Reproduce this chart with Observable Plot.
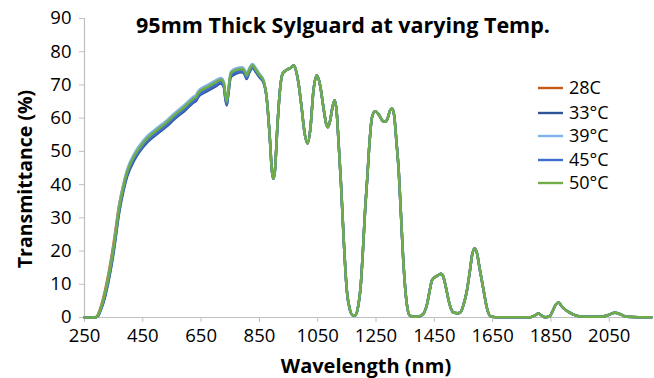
<!DOCTYPE html>
<html><head><meta charset="utf-8">
<script src="https://cdn.jsdelivr.net/npm/d3@7"></script>
<script src="https://cdn.jsdelivr.net/npm/@observablehq/plot@0.6"></script>
<style>body{margin:0;background:#fff}</style>
</head><body><div id="chart"></div>
<script>
const seriesNames = ["28C", "33°C", "39°C", "45°C", "50°C"];
const seriesColors = ["#C55A11", "#2F5597", "#7DB3E6", "#3D6FD1", "#70AD47"];
const xTicks = [250, 450, 650, 850, 1050, 1250, 1450, 1650, 1850, 2050];
const yTicks = [0, 10, 20, 30, 40, 50, 60, 70, 80, 90];

// 250–864 nm: the five curves separate slightly here
const headWavelengths = [250,270,285,295,305,320,335,350,369,385,397,420,438,466,500,529,560,592,626,632,640,672,700,718,728,733,738,743,752,770,790,800,806,815,826,838,850,864];
const head28 = [0,0,0,0.7,3,8,14.5,22.5,34,40.5,44,48.3,50.7,53.7,56.2,58.2,60.7,63,65.7,66,67.2,69.1,70.5,71.3,70.2,66.8,64.8,67.8,73.3,74.3,74.6,73.8,72.6,74.3,75.8,74.4,72.9,71.1];
const head33 = [0,0,0,0.3,2,6,12,19.5,31.5,38.6,42.6,47.2,49.8,52.8,55.3,57.3,59.8,62.1,64.8,65.1,66.3,68.2,69.6,70.4,69.3,65.8,63.8,66.8,72.4,73.4,73.8,73,71.8,73.6,75.1,73.8,72.3,70.7];
const head39 = [0,0,0,0.5,2.6,7.2,13.8,21.6,33.8,40.8,44.7,49.2,51.7,54.7,57.1,59.1,61.6,63.9,66.6,66.9,68.1,70,71.4,72.1,71,67.5,65.5,68.5,74,75,75.3,74.5,73.3,75,76.3,75,73.4,71.5];
const head45 = [0,0,0,0.4,2.2,6.4,12.5,20.2,32.2,39.2,43.2,47.7,50.2,53.2,55.7,57.7,60.2,62.5,65.2,65.5,66.7,68.6,70,70.8,69.7,66.2,64.2,67.2,72.8,73.8,74.1,73.3,72.1,73.9,75.4,74,72.6,70.9];
const head50 = [0,0,0,0.5,2.5,7,13.3,21,33,40,44,48.5,51,54,56.5,58.5,61,63.3,66,66.3,67.5,69.4,70.8,71.6,70.5,67,65,68,73.5,74.5,74.8,74,72.8,74.5,75.9,74.5,73,71.2];

// 875–2195 nm: the curves coincide here
const tailWavelengths = [875,885,893,898,903,912,920,930,945,958,967,975,985,995,1005,1015,1025,1035,1047,1058,1070,1080,1085,1092,1100,1108,1115,1122,1130,1140,1150,1160,1170,1178,1188,1197,1205,1213,1220,1228,1236,1247,1260,1275,1282,1290,1298,1305,1312,1320,1328,1335,1345,1355,1365,1380,1400,1413,1425,1435,1442,1453,1465,1473,1480,1490,1499,1508,1516,1530,1540,1550,1562,1572,1580,1588,1596,1605,1619,1630,1642,1660,1700,1780,1795,1807,1818,1830,1845,1855,1866,1876,1888,1900,1910,1930,1950,1980,2020,2045,2070,2090,2110,2150,2195];
const tailValues = [66,55,44,41.8,44,58,68,73.5,74.6,75.2,75.9,74.5,70,63,55.5,52.4,57,68,72.9,70,63,58,57.3,59,63,65.4,62,52,40,22,8,2.5,0.7,0.6,3,9,20,33,42,53,60.2,62.1,61,59,58.9,60,62.3,62.9,61,53,44,32,15,4.5,0.7,0.2,0.4,1.2,4,8.5,11.2,12.2,12.8,13.2,12.5,9,5.2,2.5,1.5,1.3,1.6,3.8,8.2,14,19,20.8,19.5,15,8.2,3,0.4,0.1,0.1,0.1,0.6,1.2,0.6,0.1,0.3,1.8,3.8,4.5,3.3,2.3,1.7,0.8,0.3,0.2,0.2,0.7,1.4,0.9,0.2,0.1,0.1];

const heads = [head28, head33, head39, head45, head50];
const data = [];
seriesNames.forEach((name, k) => {
  headWavelengths.forEach((w, i) => data.push({name, wl: w, t: heads[k][i]}));
  tailWavelengths.forEach((w, i) => data.push({name, wl: w, t: tailValues[i]}));
});

const FONT = "'Open Sans', sans-serif";
const chart = Plot.plot({
  width: 654, height: 378,
  marginLeft: 84, marginRight: 3, marginTop: 18, marginBottom: 61,
  style: {fontFamily: FONT, fontSize: "18px", color: "#000", background: "#fff", overflow: "visible"},
  x: {domain: [250, 2195]},
  y: {domain: [0, 90]},
  color: {domain: seriesNames, range: seriesColors},
  marks: [
    Plot.ruleY([0], {stroke: "#BFBFBF", strokeWidth: 1.2}),
    Plot.ruleX([250], {stroke: "#BFBFBF", strokeWidth: 1.2}),
    Plot.axisX({ticks: xTicks, tickFormat: d => String(d), tickSize: 5, tickPadding: 6, stroke: "#BFBFBF", fill: "#000", label: null, fontSize: 18.5, strokeOpacity: 1}),
    Plot.axisY({ticks: yTicks, tickFormat: d => String(d), tickSize: 5, tickPadding: 8, stroke: "#BFBFBF", fill: "#000", label: null, fontSize: 18.5, strokeOpacity: 1}),
    Plot.line(data, {x: "wl", y: "t", z: "name", stroke: "name", strokeWidth: 2.5, curve: "monotone-x"})
  ]
});
document.getElementById("chart").appendChild(chart);

const svg = d3.select(chart);
svg.append("text").attr("x", 343).attr("y", 33).attr("text-anchor", "middle")
  .attr("font-family", FONT).attr("font-weight", "bold").attr("font-size", 21.5).attr("fill", "#000")
  .text("95mm Thick Sylguard at varying Temp.");
svg.append("text").attr("x", 366).attr("y", 373).attr("text-anchor", "middle")
  .attr("font-family", FONT).attr("font-weight", "bold").attr("font-size", 20).attr("fill", "#000")
  .text("Wavelength (nm)");
svg.append("text").attr("transform", "translate(32,179) rotate(-90)").attr("text-anchor", "middle")
  .attr("font-family", FONT).attr("font-weight", "bold").attr("font-size", 19.5).attr("fill", "#000")
  .text("Transmittance (%)");

const legendY = [88, 113, 136, 160, 183];
const lg = svg.append("g");
seriesNames.forEach((name, i) => {
  lg.append("line").attr("x1", 538).attr("x2", 563).attr("y1", legendY[i]).attr("y2", legendY[i])
    .attr("stroke", seriesColors[i]).attr("stroke-width", 2.4);
  lg.append("text").attr("x", 569).attr("y", legendY[i]).attr("dy", "0.36em").attr("text-anchor", "start")
    .attr("font-family", FONT).attr("font-size", 18).attr("fill", "#000").text(name);
});
</script>
</body></html>
